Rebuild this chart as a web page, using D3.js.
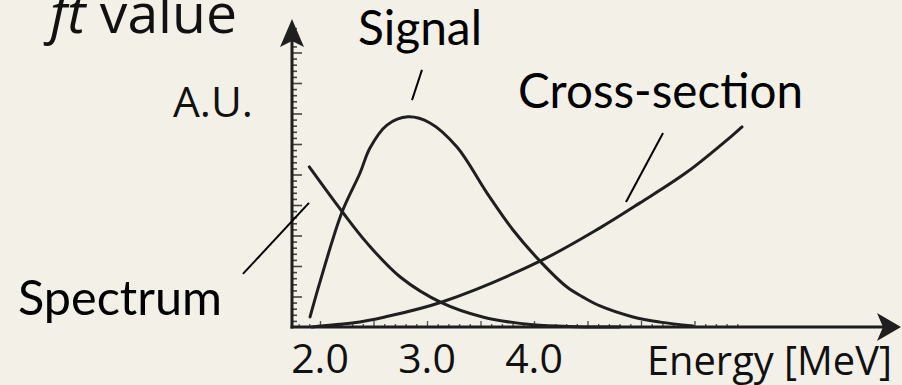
<!DOCTYPE html>
<html>
<head>
<meta charset="utf-8">
<script src="https://cdn.jsdelivr.net/npm/d3@7"></script>
<style>
  html, body { margin: 0; padding: 0; background: #f3f0e8; }
  svg { display: block; }
</style>
</head>
<body>
<svg id="chart" width="902" height="385"></svg>
<script>
// Energy (MeV) and relative amplitude (A.U.) of the three sketched curves
const signalEnergy = [1.907, 2.0, 2.206, 2.374, 2.467, 2.626, 2.822, 3.028, 3.280, 3.561, 3.804, 4.056, 4.308, 4.458, 4.617, 4.925, 5.178, 5.486];
const signalValue  = [0.33, 1.48, 3.77, 5.05, 5.87, 6.62, 6.89, 6.69, 5.90, 4.39, 3.18, 2.16, 1.31, 0.98, 0.69, 0.33, 0.16, 0.03];

const spectrumEnergy = [1.90, 2.21, 2.44, 2.75, 3.14, 3.52, 3.99, 4.40, 4.80];
const spectrumValue  = [5.25, 3.77, 2.75, 1.64, 0.79, 0.33, 0.07, 0.01, 0.0];

const crossEnergy = [1.925, 2.0, 2.30, 2.607, 3.140, 4.056, 4.617, 4.991, 5.430, 5.860, 5.944];
const crossValue  = [0.0, 0.03, 0.13, 0.33, 0.82, 2.16, 3.25, 4.07, 5.08, 6.30, 6.56];

// Axis tick labels and names
const energyTickLabels = [2.0, 3.0, 4.0];
const xAxisTitle = "Energy [MeV]";
const yAxisTitle = "A.U.";

// Callout labels: text and where their leader lines run (in data units)
const calloutNames = ["Signal", "Cross-section", "Spectrum"];
const calloutFrom  = [[2.953, 8.43], [5.206, 6.36], [1.280, 1.74]];
const calloutTo    = [[2.860, 7.44], [4.860, 4.10], [1.897, 4.07]];

const svg = d3.select("#chart");
const ink = "#1f1f1f";

// Scales: 2.0 MeV sits at x=320, one MeV spans 107px; one A.U. spans 30.5px
const x = d3.scaleLinear().domain([2, 3]).range([320, 427]);
const y = d3.scaleLinear().domain([0, 1]).range([327, 296.5]);
const originX = 292, originY = 327;

// Ruler ticks on the y axis (every 0.2, longer at whole units)
const yMinor = d3.range(1, 50).map(i => +(i * 0.2).toFixed(1)).filter(v => Math.abs(v - Math.round(v)) > 1e-6);
const yMajor = d3.range(1, 10);
svg.append("g").attr("transform", `translate(${originX},0)`)
  .call(d3.axisRight(y).tickValues(yMinor).tickSize(5).tickFormat(""))
  .call(g => g.select(".domain").remove())
  .call(g => g.selectAll("line").attr("stroke", "#444").attr("stroke-width", 1.6));
svg.append("g").attr("transform", `translate(${originX},0)`)
  .call(d3.axisRight(y).tickValues(yMajor).tickSize(10).tickFormat(""))
  .call(g => g.select(".domain").remove())
  .call(g => g.selectAll("line").attr("stroke", "#444").attr("stroke-width", 1.6));

// Ruler ticks on the x axis (every 0.1 MeV, longer every 0.5 MeV)
const xAll = d3.range(18, 60).map(i => i / 10);
const xMajor = xAll.filter(v => Math.abs(v * 2 - Math.round(v * 2)) < 1e-6);
const xMinor = xAll.filter(v => !xMajor.includes(v));
svg.append("g").attr("transform", `translate(0,${originY})`)
  .call(d3.axisTop(x).tickValues(xMinor).tickSize(3).tickFormat(""))
  .call(g => g.select(".domain").remove())
  .call(g => g.selectAll("line").attr("stroke", "#555").attr("stroke-width", 1.4));
svg.append("g").attr("transform", `translate(0,${originY})`)
  .call(d3.axisTop(x).tickValues(xMajor).tickSize(6).tickFormat(""))
  .call(g => g.select(".domain").remove())
  .call(g => g.selectAll("line").attr("stroke", "#555").attr("stroke-width", 1.4));

// Axis lines with arrow heads
svg.append("line").attr("x1", originX).attr("y1", originY + 1.5).attr("x2", originX).attr("y2", 36)
  .attr("stroke", ink).attr("stroke-width", 3);
svg.append("line").attr("x1", originX - 1.5).attr("y1", originY).attr("x2", 886).attr("y2", originY)
  .attr("stroke", ink).attr("stroke-width", 3);
svg.append("path")
  .attr("d", `M${originX},19 L${originX + 12},47 L${originX},41 L${originX - 12},47 Z`)
  .attr("fill", ink);
svg.append("path")
  .attr("d", `M901,${originY} L877,${originY + 14} L883,${originY} L877,${originY - 14} Z`)
  .attr("fill", ink);

// Curves
const line = d3.line().x(d => x(d[0])).y(d => y(d[1])).curve(d3.curveCatmullRom.alpha(0.5));
const curves = [
  d3.zip(signalEnergy, signalValue),
  d3.zip(spectrumEnergy, spectrumValue),
  d3.zip(crossEnergy, crossValue)
];
svg.append("g").selectAll("path").data(curves).join("path")
  .attr("d", line)
  .attr("fill", "none")
  .attr("stroke", ink)
  .attr("stroke-width", 3)
  .attr("stroke-linecap", "round");

// Leader lines for the callouts
svg.append("g").selectAll("line").data(d3.zip(calloutFrom, calloutTo)).join("line")
  .attr("x1", d => x(d[0][0])).attr("y1", d => y(d[0][1]))
  .attr("x2", d => x(d[1][0])).attr("y2", d => y(d[1][1]))
  .attr("stroke", "#000").attr("stroke-width", 2);

// Size a text so it spans the given width
function fitWidth(t, w) {
  const base = parseFloat(t.attr("font-size"));
  const cur = t.node().getComputedTextLength();
  t.attr("font-size", (base * w / cur).toFixed(2));
}

const geo = "'Open Sans', 'Noto Sans', sans-serif";
const humanist = "Lato, 'Noto Sans', sans-serif";

// Energy tick labels
svg.append("g").selectAll("text").data(energyTickLabels).join("text")
  .attr("x", d => x(d)).attr("y", 373)
  .attr("text-anchor", "middle")
  .attr("font-family", geo).attr("font-weight", 500).attr("font-size", 41)
  .attr("fill", "#111")
  .text(d => d3.format(".1f")(d));

// Axis titles
const xt = svg.append("text").attr("x", 647).attr("y", 375)
  .attr("font-family", geo).attr("font-weight", 500).attr("font-size", 40).attr("fill", "#111").text(xAxisTitle);
fitWidth(xt, 245);
const yt = svg.append("text").attr("x", 173).attr("y", 117)
  .attr("font-family", geo).attr("font-weight", 500).attr("font-size", 44).attr("fill", "#111").text(yAxisTitle);
fitWidth(yt, 80);

// Title: ft value
const title = svg.append("text").attr("x", 50).attr("y", 33)
  .attr("font-family", geo).attr("font-weight", 500).attr("font-size", 40).attr("fill", "#111");
title.append("tspan").attr("font-style", "italic").text("ft");
title.append("tspan").text(" value");
fitWidth(title, 187);

// Callout labels
const calloutPos = [[358, 45, 124], [518, 108, 285], [18, 315, 204]];
calloutNames.forEach((name, i) => {
  const t = svg.append("text")
    .attr("x", calloutPos[i][0]).attr("y", calloutPos[i][1])
    .attr("font-family", humanist).attr("font-size", 46).attr("fill", "#000")
    .text(name);
  fitWidth(t, calloutPos[i][2]);
});
</script>
</body>
</html>
